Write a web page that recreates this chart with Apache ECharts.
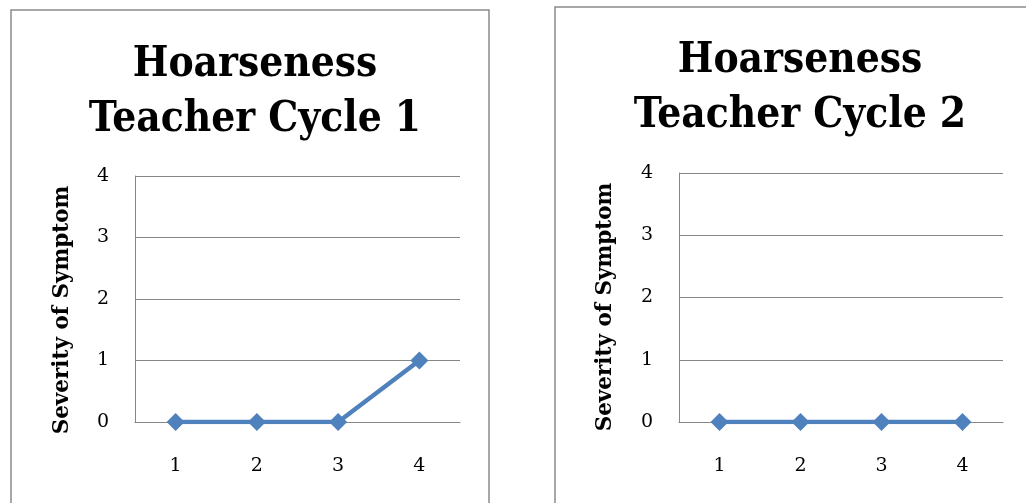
<!DOCTYPE html>
<html><head><meta charset="utf-8">
<script src="https://cdn.jsdelivr.net/npm/echarts@6/dist/echarts.min.js"></script>
<style>html,body{margin:0;padding:0;background:#fff}#c{width:1026px;height:503px}</style>
</head><body><div id="c"></div>
<script>
const categories = ['1','2','3','4'];
const cycle1 = [0, 0, 0, 1];
const cycle2 = [0, 0, 0, 0];
const titles = ['Hoarseness\nTeacher Cycle 1', 'Hoarseness\nTeacher Cycle 2'];
const yAxisName = 'Severity of Symptom';

const serif = '"DejaVu Serif", "Liberation Serif", serif';
const titleFont = '"DejaVu Serif Condensed", "DejaVu Serif", serif';
const blue = '#4F81BD';
const grids = [
  {left:135, top:176, width:325, height:246},
  {left:679, top:173, width:324, height:249}
];
function xAx(i){return {type:'category', gridIndex:i, data:categories, boundaryGap:true,
  axisLine:{show:true, lineStyle:{color:'#868686', width:1}}, axisTick:{show:false},
  axisLabel:{color:'#000', fontFamily:serif, fontSize:19, margin:35}};}
function yAx(i){return {type:'value', gridIndex:i, min:0, max:4, interval:1,
  axisLine:{show:true, lineStyle:{color:'#868686', width:1}}, axisTick:{show:false},
  axisLabel:{color:'#000', fontFamily:serif, fontSize:19, margin:26},
  splitLine:{show:true, lineStyle:{color:'#868686', width:1}}};}
function ser(i, d){return {type:'line', xAxisIndex:i, yAxisIndex:i, data:d,
  symbol:'diamond', symbolSize:18, lineStyle:{color:blue, width:4.5}, itemStyle:{color:blue}, animation:false};}
function axisTitle(x, y){return {type:'text', x:x, y:y, rotation:Math.PI/2,
  style:{text:yAxisName, align:'center', verticalAlign:'middle', fill:'#000',
    font:'bold 21.5px ' + serif}};}

const chart = echarts.init(document.getElementById('c'), null, {renderer:'canvas'});
chart.setOption({
  animation:false,
  backgroundColor:'#fff',
  title:[
    {text:titles[0], left:250, top:33, textAlign:'center', textStyle:{fontFamily:titleFont, fontWeight:'bold', fontSize:42, lineHeight:55, color:'#000'}},
    {text:titles[1], left:795, top:29, textAlign:'center', textStyle:{fontFamily:titleFont, fontWeight:'bold', fontSize:42, lineHeight:55, color:'#000'}}
  ],
  graphic:[
    {type:'rect', shape:{x:11, y:10, width:478, height:520}, style:{fill:'none', stroke:'#8a8a8a', lineWidth:1.5}},
    {type:'rect', shape:{x:555, y:7, width:500, height:520}, style:{fill:'none', stroke:'#8a8a8a', lineWidth:1.5}},
    axisTitle(62, 310),
    axisTitle(605, 307)
  ],
  grid:grids,
  xAxis:[xAx(0), xAx(1)],
  yAxis:[yAx(0), yAx(1)],
  series:[ser(0, cycle1), ser(1, cycle2)]
});
</script></body></html>
